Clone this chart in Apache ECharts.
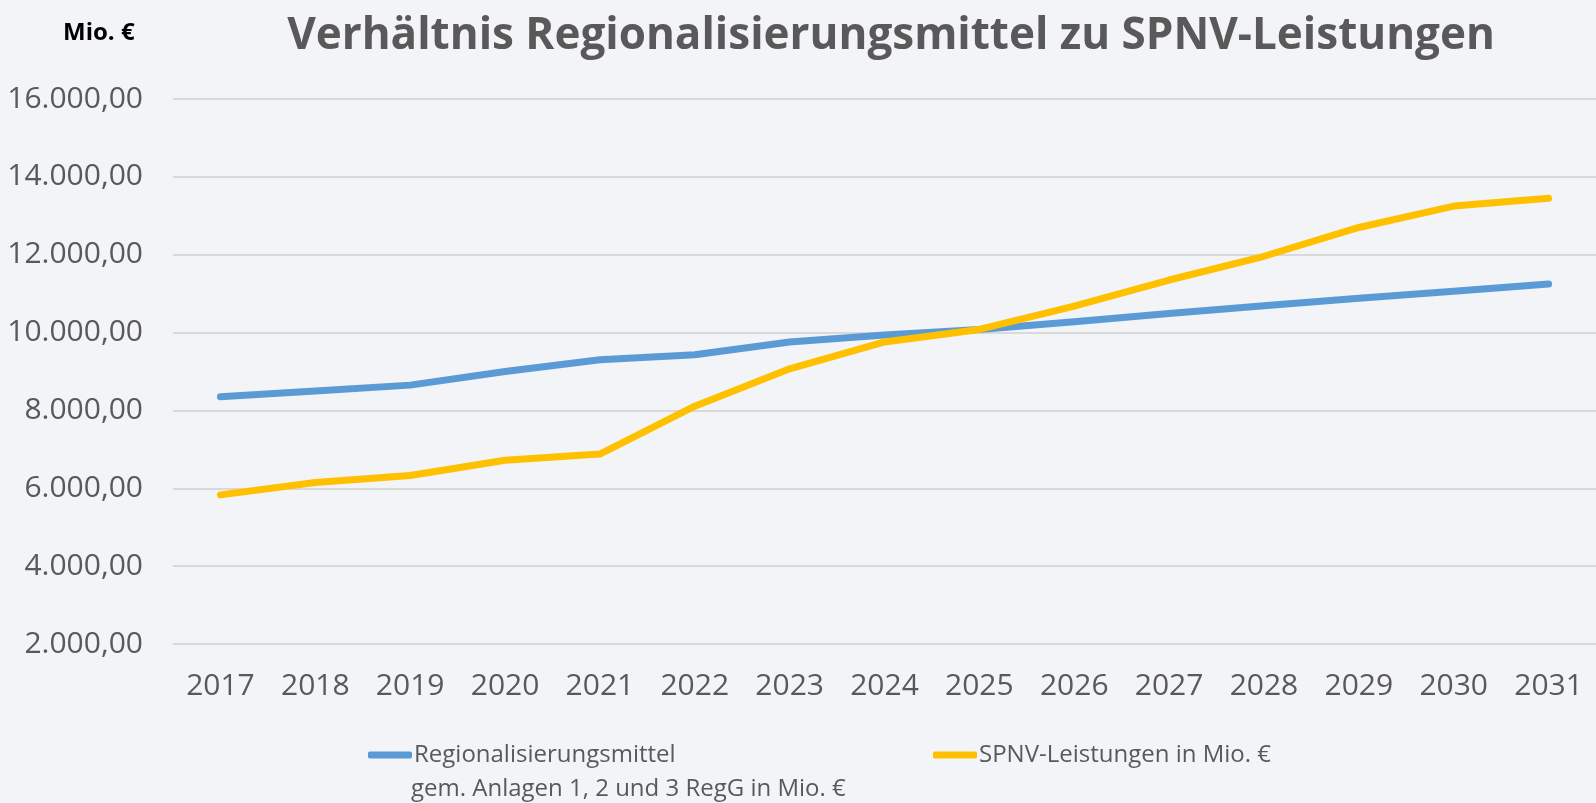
<!DOCTYPE html>
<html>
<head>
<meta charset="utf-8">
<script src="https://cdn.jsdelivr.net/npm/echarts@6/dist/echarts.min.js"></script>
<style>
  html, body { margin: 0; padding: 0; background: #F2F4F8; }
  #chart { width: 1596px; height: 803px; }
</style>
</head>
<body>
<div id="chart"></div>
<script>
// Jahre
var years = ['2017','2018','2019','2020','2021','2022','2023','2024','2025','2026','2027','2028','2029','2030','2031'];
// Regionalisierungsmittel (Mio. €)
var regMittel = [8350, 8500, 8650, 9000, 9300, 9430, 9760, 9940, 10080, 10280, 10490, 10690, 10880, 11060, 11250];
// SPNV-Leistungen (Mio. €)
var spnv = [5830, 6150, 6330, 6720, 6880, 8110, 9070, 9760, 10080, 10680, 11350, 11960, 12700, 13250, 13450];

var nameReg = 'Regionalisierungsmittel';
var nameReg2 = 'gem. Anlagen 1, 2 und 3 RegG in Mio. €';
var nameSpnv = 'SPNV-Leistungen in Mio. €';

var font = '"Open Sans", "Noto Sans", sans-serif';

function fmt(v){
  // deutsches Zahlenformat 16.000,00
  var s = Math.round(v).toString().replace(/\B(?=(\d{3})+(?!\d))/g, '.');
  return s + ',00';
}

var myChart = echarts.init(document.getElementById('chart'));
var option = {
  backgroundColor: '#F2F4F8',
  animation: false,
  title: [
    {
      text: 'Verhältnis Regionalisierungsmittel zu SPNV-Leistungen',
      left: 886, top: 9, textAlign: 'center',
      textStyle: { fontFamily: font, fontWeight: 'bold', fontSize: 44, color: '#595959' }
    },
    {
      text: 'Mio. €',
      left: 58, top: 16,
      textStyle: { fontFamily: font, fontWeight: 'bold', fontSize: 24, color: '#000' }
    }
  ],
  legend: [
    {
      left: 363, top: 738,
      icon: 'roundRect', itemWidth: 44, itemHeight: 7, itemGap: 0,
      data: [{ name: nameReg }],
      textStyle: { fontFamily: font, fontSize: 24, color: '#595959', padding: [0, 0, 0, -3] }
    },
    {
      left: 928, top: 738,
      icon: 'roundRect', itemWidth: 44, itemHeight: 7,
      data: [{ name: nameSpnv }],
      textStyle: { fontFamily: font, fontSize: 24, color: '#595959', padding: [0, 0, 0, -3] }
    }
  ],
  graphic: [
    {
      type: 'text', left: 411, top: 777,
      style: { text: nameReg2, font: '24px ' + font, fill: '#595959' }
    }
  ],
  grid: { left: 173, right: -5, top: 99, bottom: 159 },
  xAxis: {
    type: 'category',
    data: years,
    boundaryGap: true,
    axisLine: { show: false },
    axisTick: { show: false },
    axisLabel: { fontFamily: font, fontSize: 30, color: '#595959', margin: 27 }
  },
  yAxis: {
    type: 'value',
    min: 2000, max: 16000, interval: 2000,
    axisLine: { show: false },
    axisTick: { show: false },
    splitLine: { lineStyle: { color: '#D9D9D9', width: 2 } },
    axisLabel: { fontFamily: font, fontSize: 30, color: '#595959', margin: 30, formatter: fmt }
  },
  series: [
    {
      name: nameReg, type: 'line', data: regMittel,
      symbol: 'none', smooth: false,
      lineStyle: { color: '#5B9BD5', width: 7, cap: 'round', join: 'round' },
      itemStyle: { color: '#5B9BD5' }
    },
    {
      name: nameSpnv, type: 'line', data: spnv,
      symbol: 'none', smooth: false,
      lineStyle: { color: '#FFC000', width: 7, cap: 'round', join: 'round' },
      itemStyle: { color: '#FFC000' }
    }
  ]
};
myChart.setOption(option);
</script>
</body>
</html>
